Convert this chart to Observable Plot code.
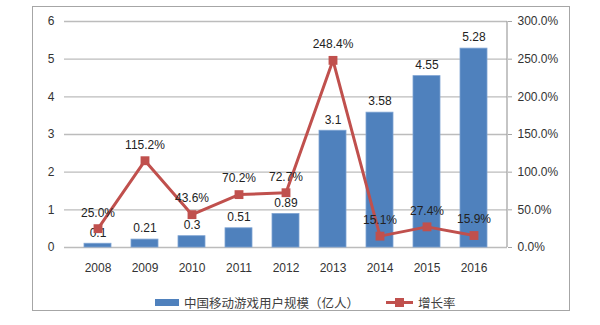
<!DOCTYPE html>
<html><head><meta charset="utf-8">
<script src="https://cdn.jsdelivr.net/npm/d3@7"></script>
<script src="https://cdn.jsdelivr.net/npm/@observablehq/plot@0.6"></script>
<style>
body{margin:0;background:#fff;font-family:"Liberation Sans",Arial,sans-serif;}
#wrap{position:relative;width:600px;height:325px;overflow:hidden;}
#frame{position:absolute;left:32px;top:6px;width:536px;height:303px;border:1.5px solid #a6a6a6;}
#chart{position:absolute;left:0;top:0;}
#legend{position:absolute;top:294px;left:155px;height:16px;display:flex;align-items:center;font-family:"Noto Sans CJK SC",sans-serif;font-size:12.5px;color:#404040;}
.sw{display:inline-block;}
</style></head>
<body><div id="wrap"><div id="frame"></div><div id="chart"></div>
<div id="legend">
<span class="sw" style="width:24px;height:7px;background:#4F81BD;margin-right:5px;"></span><span>中国移动游戏用户规模（亿人）</span>
<span class="sw" style="position:relative;width:27px;height:3px;background:#C0504D;margin-left:27px;margin-right:5px;"><span style="position:absolute;left:9px;top:-3px;width:9px;height:9px;background:#C0504D;"></span></span><span>增长率</span>
</div></div>
<script>
const years = ["2008","2009","2010","2011","2012","2013","2014","2015","2016"];
const users = [0.1,0.21,0.3,0.51,0.89,3.1,3.58,4.55,5.28];
const userLabels = ["0.1","0.21","0.3","0.51","0.89","3.1","3.58","4.55","5.28"];
const growth = [25.0,115.2,43.6,70.2,72.7,248.4,15.1,27.4,15.9];
const leftTicks = [0,1,2,3,4,5,6];
const rightTicks = [0,50,100,150,200,250,300];

const rows = years.map((y,i)=>({year:y, users:users[i], ulabel:userLabels[i], growth:growth[i], g:growth[i]/50, glabel:growth[i].toFixed(1)+"%"}));

const chart = Plot.plot({
  width:600, height:285,
  marginLeft:64, marginRight:93, marginTop:21, marginBottom:38,
  style:{fontFamily:"Liberation Sans, Arial, sans-serif", fontSize:"12px", color:"#333"},
  x:{domain:years, padding:0.42, label:null},
  y:{domain:[0,6], label:null},
  marks:[
    Plot.ruleY(leftTicks,{stroke:"#bcbcbc", strokeWidth:1.3}),
    Plot.axisX({tickSize:0, tickPadding:16, fontSize:12, fill:"#333"}),
    Plot.axisY(leftTicks,{anchor:"left", tickSize:0, tickPadding:10, fontSize:12, fill:"#333"}),
    Plot.axisY(rightTicks.map(d=>d/50),{anchor:"right", tickSize:4, tickPadding:6, stroke:"#a6a6a6", fontSize:12, fill:"#333", tickFormat:d=>(d*50).toFixed(1)+"%"}),
    Plot.barY(rows,{x:"year", y:"users", fill:"#4F81BD", stroke:"#7ea3d3", strokeWidth:0.8}),
    Plot.text(rows,{x:"year", y:"users", text:"ulabel", dy:-11, fontSize:12, fill:"#222"}),
    Plot.line(rows,{x:"year", y:"g", stroke:"#C0504D", strokeWidth:3}),
    Plot.dot(rows,{x:"year", y:"g", symbol:"square", r:5, fill:"#C0504D"}),
    Plot.text(rows,{x:"year", y:"g", text:"glabel", dy:-16, fontSize:12, fill:"#222"})
  ]
});
document.getElementById("chart").appendChild(chart);
// right axis vertical line, placed with the plot's own y scale
const ys = chart.scale("y");
const xr = 600 - 93;
d3.select(chart).append("line")
  .attr("x1", xr).attr("x2", xr)
  .attr("y1", ys.apply(6)).attr("y2", ys.apply(0))
  .attr("stroke", "#a6a6a6").attr("stroke-width", 1.3);
</script></body></html>
